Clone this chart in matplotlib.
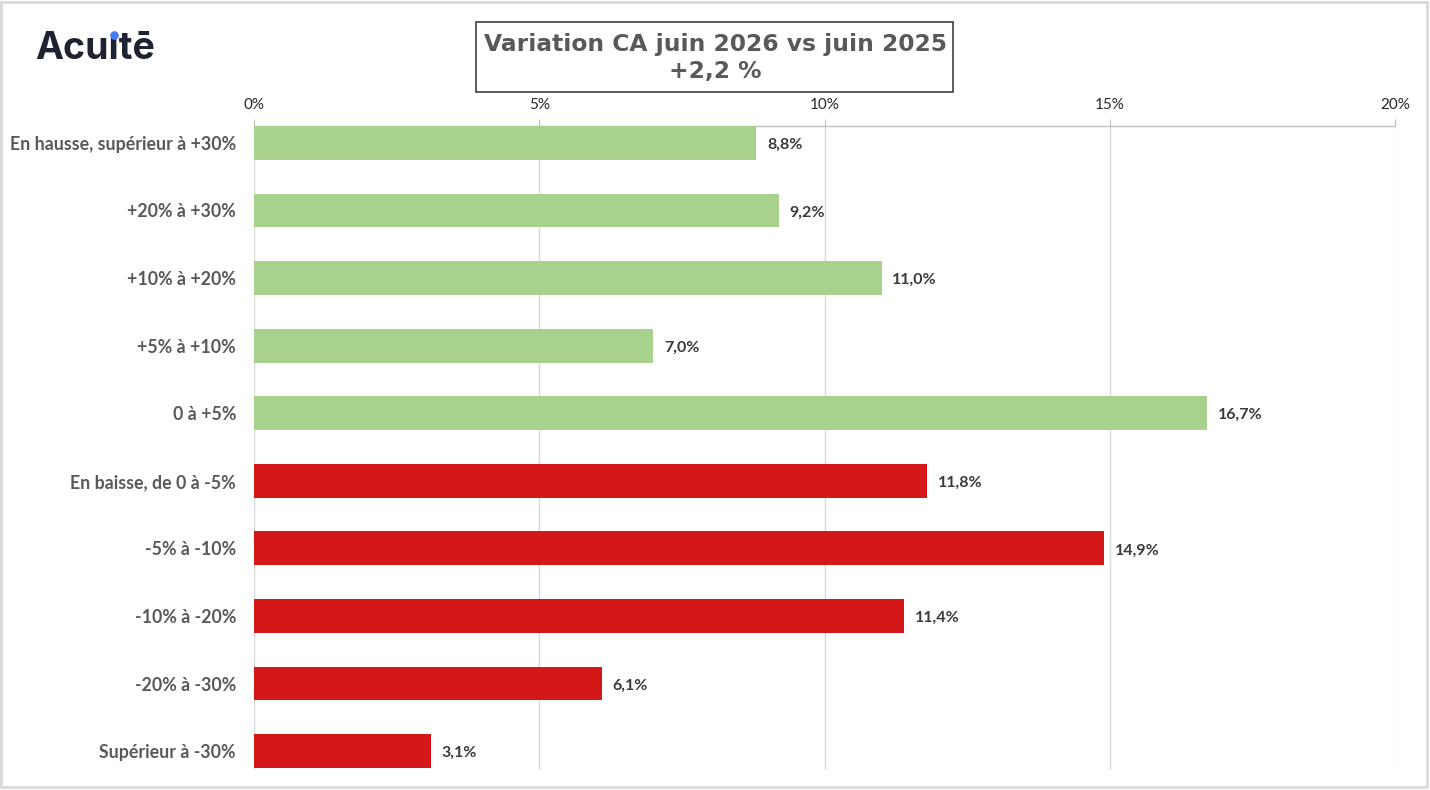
import numpy as np
import matplotlib
matplotlib.use("Agg")
import matplotlib.pyplot as plt
from matplotlib.patches import Rectangle
from matplotlib.lines import Line2D
from matplotlib.ticker import FuncFormatter

# data
categories = ['En hausse, supérieur à +30%', '+20% à +30%', '+10% à +20%', '+5% à +10%', '0 à +5%',
              'En baisse, de 0 à -5%', '-5% à -10%', '-10% à -20%', '-20% à -30%', 'Supérieur à -30%']
values = [8.8, 9.2, 11.0, 7.0, 16.7, 11.8, 14.9, 11.4, 6.1, 3.1]
is_up = [True, True, True, True, True, False, False, False, False, False]
xticks = [0, 5, 10, 15, 20]

green = '#a9d18e'
red = '#d41717'

plt.rcParams['font.family'] = ['Lato', 'DejaVu Sans']

fig = plt.figure(figsize=(14.3, 7.9), dpi=100)
ax = fig.add_axes([254/1430, 1 - 770/790, (1395 - 254)/1430, (770 - 126)/790])

y = np.arange(len(categories))
colors = [green if u else red for u in is_up]
ax.barh(y, values, height=0.5, color=colors, zorder=3)

for yi, v in zip(y, values):
    ax.text(v + 0.19, yi + 0.03, f'{v:.1f}%'.replace('.', ','), va='center', ha='left',
            fontsize=11.5, fontweight='bold', color='#3a3a3a')

ax.set_xlim(0, 20)
ax.set_ylim(len(categories) - 0.72, -0.25)
ax.set_xticks(xticks)
ax.xaxis.set_major_formatter(FuncFormatter(lambda v, p: f'{v:.0f}%'))
ax.xaxis.tick_top()
ax.tick_params(axis='x', length=5, color='#bfbfbf', labelsize=11, labelcolor='#262626', pad=5)
ax.set_yticks(y)
ax.set_yticklabels(categories, fontsize=12.8, fontweight='bold', color='#595959')
ax.tick_params(axis='y', length=0, pad=13)
ax.grid(axis='x', color='#d9d9d9', lw=1, zorder=0)

for s in ['right', 'bottom', 'left']:
    ax.spines[s].set_visible(False)
ax.spines['top'].set_color('#bfbfbf')
ax.spines['top'].set_linewidth(1)

# title box
fig.text(715/1430, 1 - 58/790, 'Variation CA juin 2026 vs juin 2025\n+2,2 %', ha='center', va='center',
         fontsize=16.8, fontweight='bold', color='#595959', family='DejaVu Sans', linespacing=1.2)
fig.patches.append(Rectangle((476/1430, 1 - 92/790), (953 - 476)/1430, 70/790, transform=fig.transFigure,
                             fill=False, edgecolor='#404040', lw=1.2))

# logo: dotless i, then a blue dot placed over it
logo_x, logo_base = 35/1430, 1 - 59/790
fig.text(logo_x, logo_base, 'Acuıtē', ha='left', va='baseline', fontsize=27, fontweight='bold',
         color='#1f2230', family='Inter')
fig.canvas.draw()
r = fig.canvas.get_renderer()
pre = fig.text(logo_x, logo_base, 'Acu', ha='left', va='baseline', fontsize=27, fontweight='bold', family='Inter')
with_i = fig.text(logo_x, logo_base, 'Acuı', ha='left', va='baseline', fontsize=27, fontweight='bold', family='Inter')
b1 = pre.get_window_extent(r)
b2 = with_i.get_window_extent(r)
pre.remove()
with_i.remove()
dot_x = (b1.x1 + b2.x1) / 2 / fig.bbox.width
dot_y = logo_base + 24/790
fig.add_artist(Line2D([dot_x], [dot_y], transform=fig.transFigure, marker='o', markersize=5.2,
                      color='#4a7cf7', lw=0, zorder=6))

# outer frame
fig.patches.append(Rectangle((0.001, 0.004), 0.997, 0.994, transform=fig.transFigure,
                             fill=False, edgecolor='#d9d9d9', lw=2))

fig.savefig('out.png', dpi=100, facecolor='white')
